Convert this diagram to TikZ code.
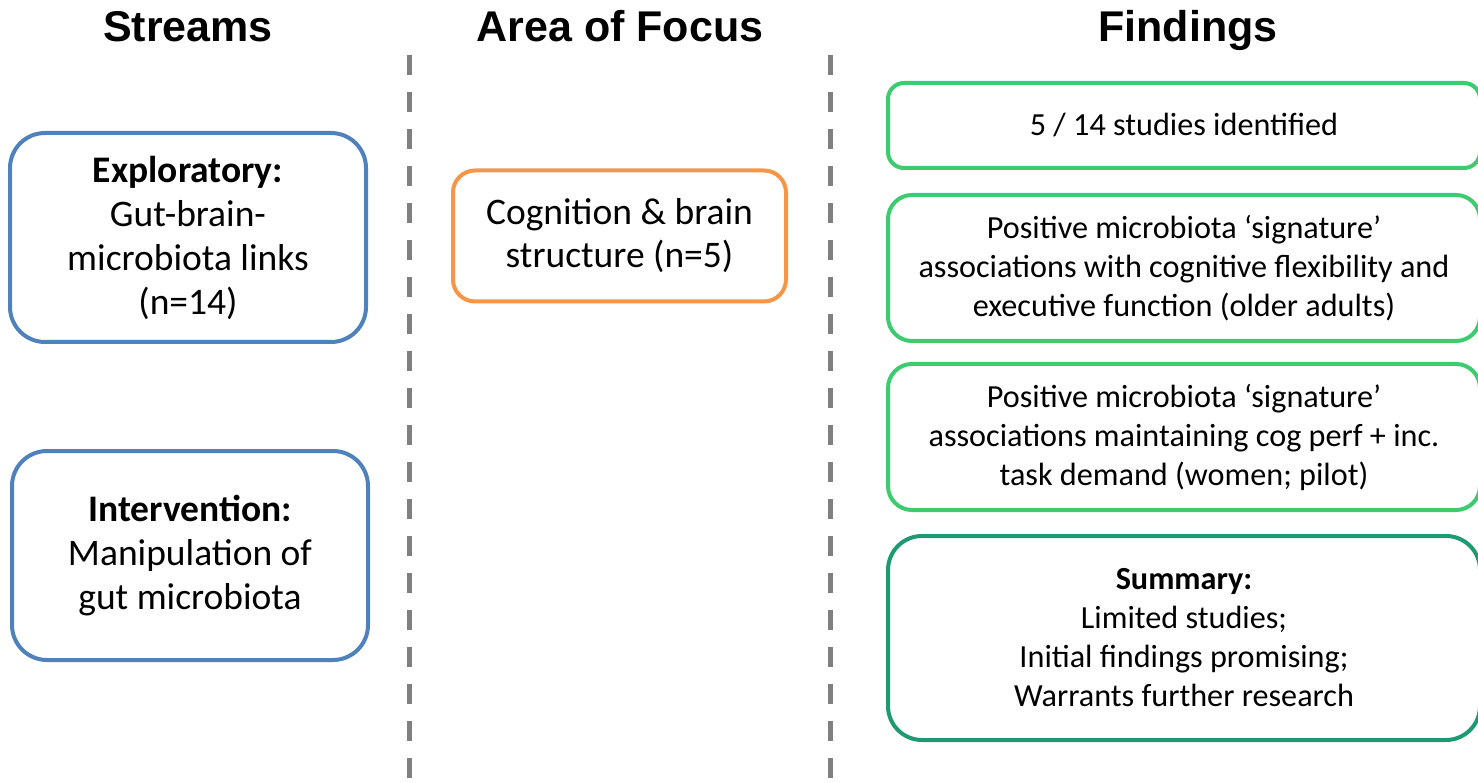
\documentclass[tikz,border=0pt]{standalone}
\usepackage{fontspec}
\setmainfont{Carlito}
\newfontfamily\headfont{Liberation Sans}
\definecolor{streamblue}{HTML}{4F81BD}
\definecolor{focusorange}{HTML}{F79646}
\definecolor{findgreen}{HTML}{3CCB6E}
\definecolor{sumteal}{HTML}{1E9A72}
\definecolor{divgray}{HTML}{808080}
\tikzset{
  header/.style={font=\headfont\bfseries\fontsize{43}{50}\selectfont, anchor=base},
  card/.style={draw, line width=4pt, fill=white, align=center, inner sep=0pt},
  streamcard/.style={card, draw=streamblue, rounded corners=35pt,
    font=\fontsize{37.5}{44}\selectfont},
  focuscard/.style={card, draw=focusorange, rounded corners=22pt,
    font=\fontsize{37.5}{43}\selectfont},
  findcard/.style={card, draw=findgreen, font=\fontsize{32.2}{39}\selectfont},
  divider/.style={draw=divgray, line width=5pt, dash pattern=on 20pt off 17pt}
}
\begin{document}
\begin{tikzpicture}[x=1pt, y=-1pt]
  \useasboundingbox (0,0) rectangle (1478,783);

  % column headings
  \node[header] (hstreams) at (188,42) {Streams};
  \node[header] (hfocus) at (620,42) {Area of Focus};
  \node[header] (hfind) at (1188,42) {Findings};

  % column separators
  \coordinate (d1top) at (409,55);
  \coordinate (d1bot) at (409,790);
  \coordinate (d2top) at (830,55);
  \coordinate (d2bot) at (830,790);
  \draw[divider] (d1top) -- (d1bot);
  \draw[divider] (d2top) -- (d2bot);

  % streams
  \node[streamcard, minimum width=356pt, minimum height=209pt] (explore) at (188,237.5)
    {\textbf{Exploratory:}\\Gut-brain-\\microbiota links\\(n=14)};
  \node[streamcard, minimum width=356pt, minimum height=209pt] (interv) at (190,555.5)
    {\textbf{Intervention:}\\Manipulation of\\gut microbiota};

  % area of focus
  \node[focuscard, minimum width=333pt, minimum height=131pt] (focus) at (619.5,236)
    {Cognition \& brain\\structure (n=5)};

  % findings
  \node[findcard, rounded corners=16pt, minimum width=592pt, minimum height=85pt] (f1) at (1184,125.5)
    {5 / 14 studies identified};
  \node[findcard, rounded corners=24pt, minimum width=592pt, minimum height=146pt] (f2) at (1184,268)
    {Positive microbiota ‘signature’\\associations with cognitive flexibility and\\executive function (older adults)};
  \node[findcard, rounded corners=24pt, minimum width=592pt, minimum height=146pt] (f3) at (1184,437)
    {Positive microbiota ‘signature’\\associations maintaining cog perf + inc.\\task demand (women; pilot)};
  \node[findcard, draw=sumteal, rounded corners=34pt, minimum width=592pt, minimum height=204pt] (sum) at (1184,638)
    {\textbf{Summary:}\\Limited studies;\\Initial findings promising;\\Warrants further research};
\end{tikzpicture}
\end{document}
